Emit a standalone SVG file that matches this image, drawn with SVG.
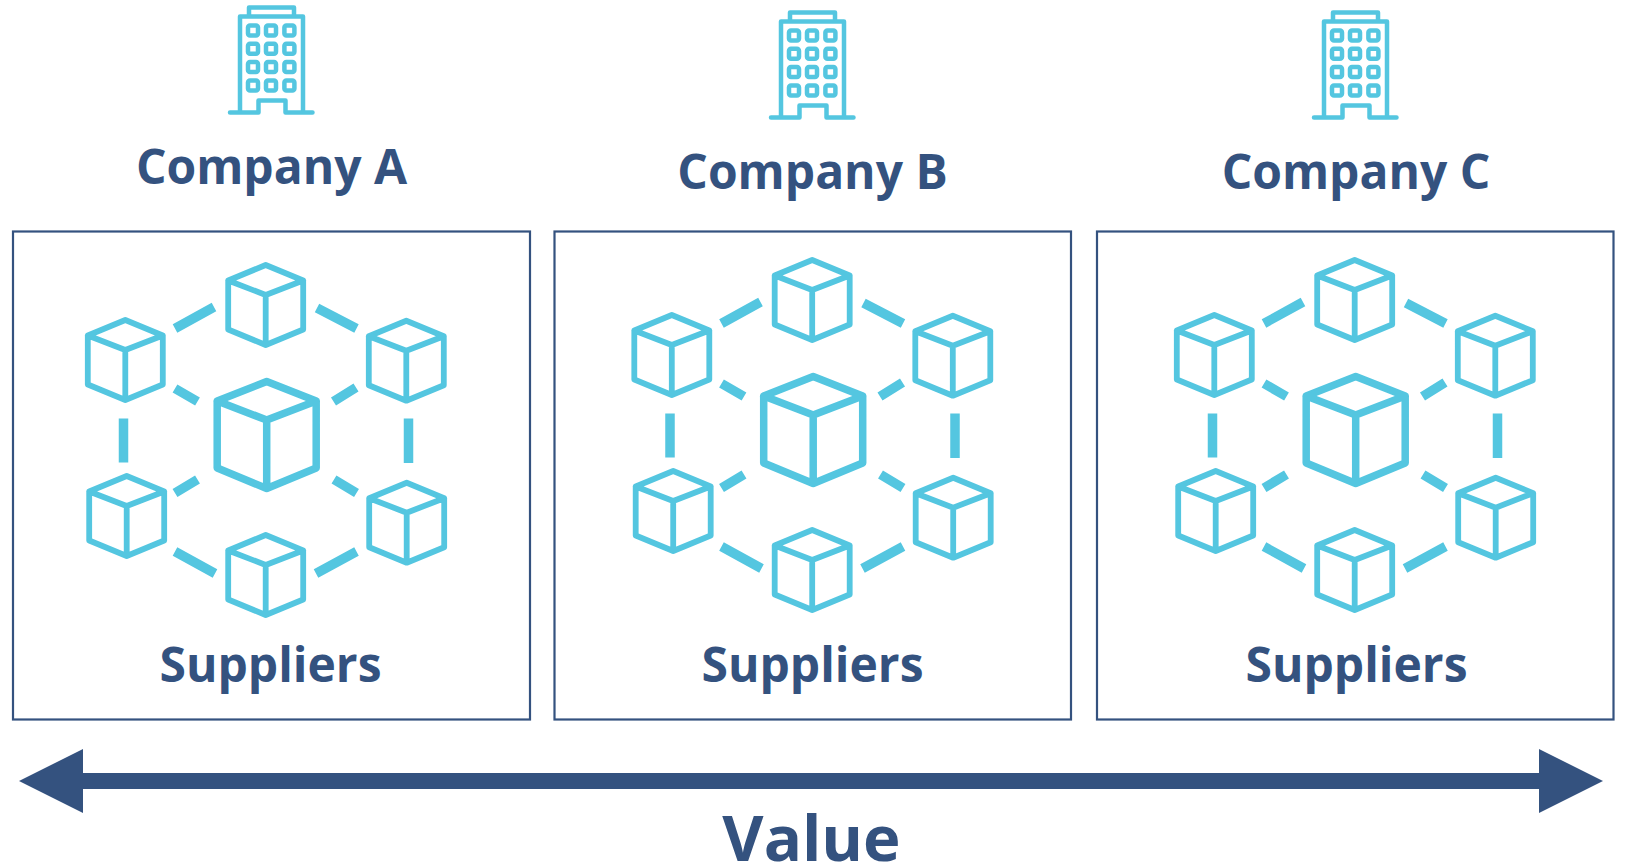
<svg xmlns="http://www.w3.org/2000/svg" width="1625" height="866" viewBox="0 0 1625 866">
<style>
.t{font-family:"Open Sans","Noto Sans",sans-serif;font-weight:700;fill:#34527f;text-anchor:middle}
.c{font-size:48px}
.box{fill:none;stroke:#34527f;stroke-width:2.2}
.ic{fill:none;stroke:#54c6e0;stroke-linejoin:round;stroke-linecap:round}
.lk{fill:none;stroke:#54c6e0;stroke-width:9.5}
</style>
<defs>
<g id="cube" class="ic" stroke-width="5.800"><path d="M0,-40 L37.500,-24.500 V24.500 L0,40 L-37.500,24.500 V-24.500 Z M-37.500,-24.500 L0,-10 L37.500,-24.500 M0,-10 V40"/></g>
<g id="bigcube" class="ic" stroke-width="7.500"><path d="M0,-53.500 L49.500,-34 V33 L0,53.500 L-49.500,33 V-34 Z M-49.500,-34 L0,-15 L49.500,-34 M0,-15 V53.500"/></g>
<g id="building" class="ic" stroke-width="4.500">
<path d="M-41,112.500 H-12.500 V100.500 H14.500 V112.500 H41.500 M-31,112.500 V16.500 H32 V112.500 M-22,16.500 V7.500 H23 V16.500"/>
<rect x="-23" y="25.400" width="10" height="10" rx="2"/><rect x="-5" y="25.400" width="10" height="10" rx="2"/><rect x="13.400" y="25.400" width="10" height="10" rx="2"/>
<rect x="-23" y="43.700" width="10" height="10" rx="2"/><rect x="-5" y="43.700" width="10" height="10" rx="2"/><rect x="13.400" y="43.700" width="10" height="10" rx="2"/>
<rect x="-23" y="62" width="10" height="10" rx="2"/><rect x="-5" y="62" width="10" height="10" rx="2"/><rect x="13.400" y="62" width="10" height="10" rx="2"/>
<rect x="-23" y="80.400" width="10" height="10" rx="2"/><rect x="-5" y="80.400" width="10" height="10" rx="2"/><rect x="13.400" y="80.400" width="10" height="10" rx="2"/>
</g>
<g id="links">
<path d="M175,328.500 L214,307 M317,308 L356.500,328.500 M175,388.500 L197.500,401.500 M356,387.500 L333.500,401.500 M197.500,479.500 L175,493 M334,479.500 L356.500,493 M123.500,418.500 V462.500 M408.500,418.500 V463 M175,551.500 L215,573.500 M356.500,551.500 L316,573.500"/>
</g>
</defs>
<g id="connectors" class="lk">
<use href="#links"/>
<use href="#links" x="546.500" y="-5"/>
<use href="#links" x="1089" y="-5"/>
</g>
<g id="company-a"><use href="#building" x="271" y="0"/><text class="t c" x="271.500" y="184">Company A</text></g>
<g id="company-b"><use href="#building" x="812" y="5"/><text class="t c" x="812.500" y="189">Company B</text></g>
<g id="company-c"><use href="#building" x="1355" y="5"/><text class="t c" x="1356" y="189">Company C</text></g>
<g id="suppliers-a"><rect class="box" x="13" y="231.500" width="517" height="488"/>
<use href="#cube" x="265.700" y="305"/><use href="#cube" x="125.300" y="360"/><use href="#cube" x="406.300" y="360.700"/><use href="#cube" x="126.700" y="516"/><use href="#cube" x="406.700" y="522.700"/><use href="#cube" x="265.700" y="575"/><use href="#bigcube" x="266.700" y="435"/>
<text class="t c" x="270.500" y="682">Suppliers</text></g>
<g id="suppliers-b"><rect class="box" x="554.500" y="231.500" width="516.500" height="488"/>
<use href="#cube" x="812.200" y="300"/><use href="#cube" x="671.800" y="355"/><use href="#cube" x="952.800" y="355.700"/><use href="#cube" x="673.200" y="511"/><use href="#cube" x="953.200" y="517.700"/><use href="#cube" x="812.200" y="570"/><use href="#bigcube" x="813.200" y="430"/>
<text class="t c" x="812.500" y="682">Suppliers</text></g>
<g id="suppliers-c"><rect class="box" x="1097" y="231.500" width="516.500" height="488"/>
<use href="#cube" x="1354.700" y="300"/><use href="#cube" x="1214.300" y="355"/><use href="#cube" x="1495.300" y="355.700"/><use href="#cube" x="1215.700" y="511"/><use href="#cube" x="1495.700" y="517.700"/><use href="#cube" x="1354.700" y="570"/><use href="#bigcube" x="1355.700" y="430"/>
<text class="t c" x="1356.500" y="682">Suppliers</text></g>
<g id="value-arrow"><path fill="#34527f" d="M19,781 L83,749 V773 H1539 V749 L1603,781 L1539,813 V789 H83 V813 Z"/>
<text class="t" style="font-size:63.500px" x="811.500" y="860.500">Value</text></g>
</svg>
